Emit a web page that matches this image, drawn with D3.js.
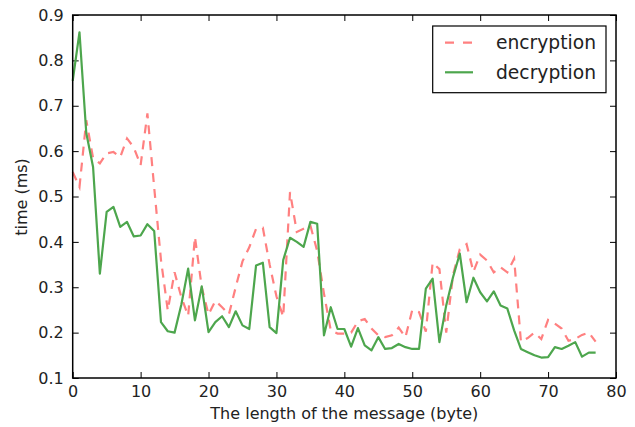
<!DOCTYPE html>
<html>
<head>
<meta charset="utf-8">
<script src="https://cdn.jsdelivr.net/npm/d3@7"></script>
<style>
  html, body { margin: 0; padding: 0; background: #fff; }
  svg { display: block; }
  text { font-family: "DejaVu Sans", sans-serif; fill: #222; }
</style>
</head>
<body>
<svg id="chart" width="635" height="427"></svg>
<script>
const lengths = d3.range(0, 78);
const encryption = [0.554,0.521,0.668,0.585,0.573,0.595,0.598,0.587,0.628,0.608,
  0.569,0.683,0.52,0.36,0.249,0.333,0.278,0.237,0.411,0.3,
  0.24,0.27,0.256,0.24,0.3,0.357,0.388,0.429,0.431,0.35,
  0.28,0.235,0.51,0.422,0.429,0.436,0.38,0.286,0.205,0.198,
  0.198,0.2,0.225,0.23,0.209,0.194,0.19,0.194,0.211,0.19,
  0.25,0.245,0.202,0.354,0.34,0.2,0.327,0.384,0.395,0.334,
  0.372,0.359,0.333,0.344,0.333,0.363,0.18,0.188,0.2,0.186,
  0.228,0.22,0.209,0.182,0.186,0.195,0.2,0.18];
const decryption = [0.755,0.862,0.64,0.565,0.33,0.466,0.477,0.433,0.444,0.412,
  0.414,0.439,0.424,0.223,0.203,0.2,0.262,0.341,0.227,0.302,
  0.201,0.223,0.236,0.212,0.247,0.216,0.208,0.348,0.354,0.212,
  0.199,0.36,0.409,0.4,0.389,0.444,0.44,0.194,0.256,0.208,
  0.208,0.169,0.21,0.172,0.161,0.19,0.164,0.166,0.175,0.168,
  0.164,0.164,0.297,0.319,0.179,0.26,0.322,0.374,0.267,0.321,
  0.289,0.269,0.291,0.26,0.253,0.205,0.164,0.157,0.15,0.145,
  0.146,0.168,0.164,0.171,0.179,0.147,0.156,0.156];
const xTicks = [0,10,20,30,40,50,60,70,80];
const yTicks = [0.1,0.2,0.3,0.4,0.5,0.6,0.7,0.8,0.9];
const seriesNames = ["encryption", "decryption"];

const svg = d3.select("#chart");
const L = 72.7, R = 616, T = 15, B = 378;
const x = d3.scaleLinear().domain([0, 80]).range([L, R]);
const y = d3.scaleLinear().domain([0.1, 0.9]).range([B, T]);

const tickLen = 6;
// Bottom axis (inward ticks)
const gx = svg.append("g").attr("transform", `translate(0,${B})`)
  .call(d3.axisBottom(x).tickValues(xTicks).tickFormat(d3.format("d")).tickSizeInner(-tickLen).tickSizeOuter(0).tickPadding(8));
const gxt = svg.append("g").attr("transform", `translate(0,${T})`)
  .call(d3.axisTop(x).tickValues(xTicks).tickFormat("").tickSizeInner(-tickLen).tickSizeOuter(0));
const gy = svg.append("g").attr("transform", `translate(${L},0)`)
  .call(d3.axisLeft(y).tickValues(yTicks).tickFormat(d3.format(".1f")).tickSizeInner(-tickLen).tickSizeOuter(0).tickPadding(9));
const gyr = svg.append("g").attr("transform", `translate(${R},0)`)
  .call(d3.axisRight(y).tickValues(yTicks).tickFormat("").tickSizeInner(-tickLen).tickSizeOuter(0));

[gx, gxt, gy, gyr].forEach(g => {
  g.select(".domain").remove();
  g.selectAll(".tick line").attr("stroke", "#000").attr("stroke-width", 1);
  g.selectAll(".tick text").attr("font-size", 16).attr("font-family", "DejaVu Sans").attr("fill", "#222");
});

const line = d3.line().x((d, i) => x(lengths[i])).y(d => y(d));

svg.append("path").datum(encryption)
  .attr("d", line).attr("fill", "none")
  .attr("stroke", "#ff8080").attr("stroke-width", 2.2)
  .attr("stroke-dasharray", "9,7");
svg.append("path").datum(decryption)
  .attr("d", line).attr("fill", "none")
  .attr("stroke", "#4da64d").attr("stroke-width", 2.2)
  .attr("stroke-linejoin", "round");

// frame
svg.append("rect").attr("x", L).attr("y", T).attr("width", R - L).attr("height", B - T)
  .attr("fill", "none").attr("stroke", "#000").attr("stroke-width", 1.5);

// labels
svg.append("text").attr("x", (L + R) / 2 - 0).attr("y", 419)
  .attr("text-anchor", "middle").attr("font-size", 16)
  .text("The length of the message (byte)");
svg.append("text").attr("transform", "translate(27,197) rotate(-90)")
  .attr("text-anchor", "middle").attr("font-size", 16)
  .text("time (ms)");

// legend
const lg = svg.append("g");
lg.append("rect").attr("x", 432.7).attr("y", 26).attr("width", 173.3).attr("height", 66.7)
  .attr("fill", "#fff").attr("stroke", "#000").attr("stroke-width", 1.2);
const legendStyles = [
  {color: "#ff8080", dash: "9,9"},
  {color: "#4da64d", dash: null}
];
seriesNames.forEach((name, i) => {
  const ly = 42.7 + i * 29.6;
  const ln = lg.append("line").attr("x1", 445).attr("x2", 473).attr("y1", ly).attr("y2", ly)
    .attr("stroke", legendStyles[i].color).attr("stroke-width", 2.2);
  if (legendStyles[i].dash) ln.attr("stroke-dasharray", legendStyles[i].dash);
  lg.append("text").attr("x", 496).attr("y", ly).attr("dy", "0.35em")
    .attr("font-size", 18.7).text(name);
});
</script>
</body>
</html>
